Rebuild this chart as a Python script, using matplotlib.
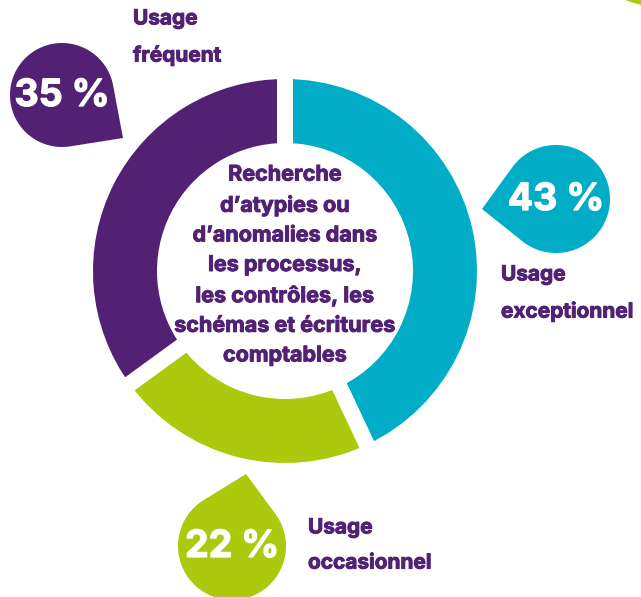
import numpy as np
import matplotlib.pyplot as plt
import matplotlib.patheffects as pe
from matplotlib.patches import Polygon, Circle

# Share of each usage level, clockwise from the top
labels = ["Usage\nexceptionnel", "Usage\noccasionnel", "Usage\nfréquent"]
shares = [43, 22, 35]
colors = ["#00acc6", "#adc90e", "#522173"]
purple = "#522173"
center_text = ("Recherche\nd’atypies ou\nd’anomalies dans\nles processus,\n"
               "les contrôles, les\nschémas et écritures\ncomptables")

plt.rcParams['font.family'] = ['Inter', 'DejaVu Sans']


def heavy(color, w=0.7):
    # thin same-colour outline so the bold face reads a bit blacker
    return [pe.withStroke(linewidth=w, foreground=color)]


W, H = 641, 597
fig = plt.figure(figsize=(W / 100, H / 100), dpi=100)
ax = fig.add_axes([0, 0, 1, 1])

# donut: y axis is flipped, so counterclock in data reads clockwise on screen
cx, cy = 285, 271
gap = 11.5  # points, white stroke that opens the gaps between slices
ax.pie(shares, colors=colors, startangle=-90, counterclock=True,
       center=(cx, cy), radius=200, frame=True,
       wedgeprops=dict(width=80, edgecolor='white', linewidth=gap))
ax.set_xlim(0, W)
ax.set_ylim(H, 0)
ax.set_aspect('equal')
ax.axis('off')

ax.text(cx, cy - 6, center_text, ha='center', va='center', color=purple,
        fontsize=15.5, fontweight='bold', linespacing=1.6,
        path_effects=heavy(purple))


def teardrop(center, r, tip, color):
    c = np.array(center, float)
    p = np.array(tip, float)
    d = np.linalg.norm(p - c)
    phi = np.arctan2(p[1] - c[1], p[0] - c[0])
    a = np.arccos(r / d)
    t = np.linspace(phi + a, phi + 2 * np.pi - a, 120)
    pts = np.column_stack([c[0] + r * np.cos(t), c[1] + r * np.sin(t)])
    pts = np.vstack([pts, p])
    ax.add_patch(Polygon(pts, closed=True, facecolor=color, edgecolor='none'))


# callouts: (drop center, radius, tip, label anchor)
callouts = [
    ((556, 199), 54, (482, 209), (501, 293)),
    ((232, 546), 54, (246, 474), (308, 545)),
    ((62, 95), 52, (123, 138), (133, 37)),
]
for (c, r, tip, lab_xy), share, color, lab in zip(callouts, shares, colors, labels):
    teardrop(c, r, tip, color)
    ax.text(c[0], c[1] + 1, f"{share} %", ha='center', va='center',
            color='white', fontsize=27, fontweight='bold',
            path_effects=heavy('white', 0.9))
    ax.text(lab_xy[0], lab_xy[1], lab, ha='left', va='center', color=purple,
            fontsize=15, fontweight='bold', linespacing=1.95,
            path_effects=heavy(purple))

# edge of the next drop peeking in at the top right
ax.add_patch(Circle((680, -150), 159.8, facecolor=colors[1], edgecolor='none'))

fig.savefig("out.png", dpi=100)
